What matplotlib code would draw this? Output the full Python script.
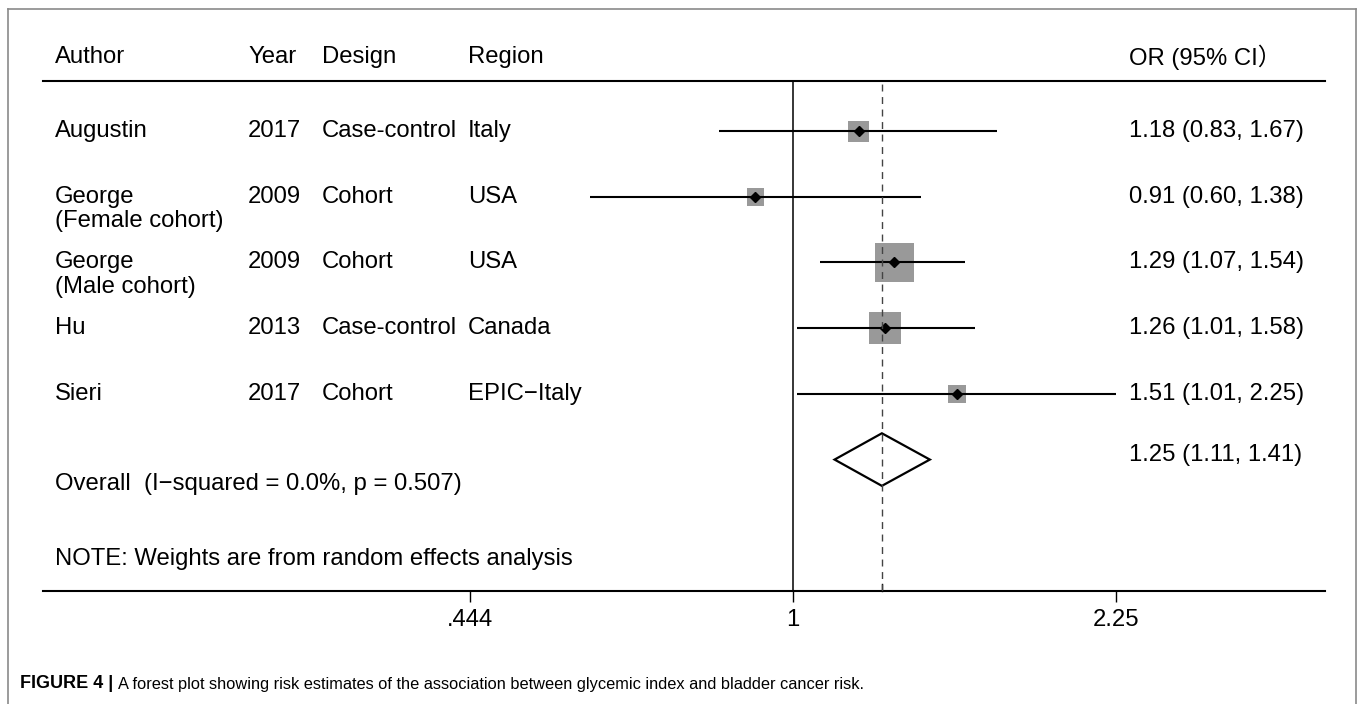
import matplotlib
matplotlib.use("Agg")
import matplotlib.pyplot as plt
from matplotlib.lines import Line2D
from matplotlib.patches import Polygon
from matplotlib.ticker import NullLocator
import numpy as np

plt.rcParams['font.family'] = ['Liberation Sans', 'Noto Sans CJK SC', 'DejaVu Sans']

# study rows
authors = ["Augustin", "George\n(Female cohort)", "George\n(Male cohort)", "Hu", "Sieri"]
years = ["2017", "2009", "2009", "2013", "2017"]
designs = ["Case-control", "Cohort", "Cohort", "Case-control", "Cohort"]
regions = ["Italy", "USA", "USA", "Canada", "EPIC\u2212Italy"]
or_est = [1.18, 0.91, 1.29, 1.26, 1.51]
ci_low = [0.83, 0.60, 1.07, 1.01, 1.01]
ci_high = [1.67, 1.38, 1.54, 1.58, 2.25]
weights = [12.0, 8.5, 42.5, 28.5, 8.5]   # % weight, sets box area

# pooled estimate
overall_or, overall_lo, overall_hi = 1.25, 1.11, 1.41
overall_label = "Overall  (I\u2212squared = 0.0%, p = 0.507)"
note = "NOTE: Weights are from random effects analysis"

headers = ["Author", "Year", "Design", "Region"]
or_header = "OR (95% CI\uff09"
xticks = [0.444, 1, 2.25]
xtick_labels = [".444", "1", "2.25"]

caption_bold = "FIGURE 4 |"
caption = "A forest plot showing risk estimates of the association between glycemic index and bladder cancer risk."

W, H = 1360, 704
fig = plt.figure(figsize=(W / 100, H / 100), dpi=100)


def fx(px):
    return px / W


def fy(py):
    return 1 - py / H


# plot area: header rule on top, x axis at the bottom
left_px, right_px, top_px, bot_px = 43, 1325, 81, 591
ax = fig.add_axes([fx(left_px), fy(bot_px), (right_px - left_px) / W, (bot_px - top_px) / H])
ax.set_xscale('log')
ax.set_xlim(0.1521, 3.803)
ax.set_ylim(8.0, 0.239)
for side in ['left', 'right']:
    ax.spines[side].set_visible(False)
for side in ['top', 'bottom']:
    ax.spines[side].set_linewidth(1.5)
ax.set_yticks([])
ax.set_xticks(xticks)
ax.set_xticklabels(xtick_labels)
ax.xaxis.set_minor_locator(NullLocator())

fs = 17.2
ax.tick_params(axis='x', direction='out', length=8, width=1.0, pad=5, labelsize=fs)

rows = np.arange(1, len(authors) + 1)
ov_row = len(authors) + 1

# reference lines
ax.axvline(1, color='black', lw=1.1, zorder=1)
ax.axvline(overall_or, color='#444444', lw=1.0, ls=(0, (5, 4)), zorder=5)
ax.plot([overall_or, overall_or], [0, 7 / (bot_px - top_px)], transform=ax.get_xaxis_transform(),
        color='black', lw=1.0, clip_on=False)

# weighted boxes, CIs and point estimates
side_px = 6.06 * np.sqrt(weights)
ax.scatter(or_est, rows, s=(side_px * 72 / 100) ** 2, marker='s', color='#999999',
           linewidths=0, zorder=2)
ax.hlines(rows, ci_low, ci_high, color='black', lw=1.5, zorder=3)
ax.plot(or_est, rows, ls='none', marker='D', markersize=4.8, color='black', zorder=4)

# pooled diamond
dia = Polygon([(overall_lo, ov_row), (overall_or, ov_row - 0.40),
               (overall_hi, ov_row), (overall_or, ov_row + 0.40)],
              closed=True, fill=False, edgecolor='black', lw=1.6, zorder=3)
ax.add_patch(dia)

# text columns (x in axes fraction, y in row units)
tr = ax.get_yaxis_transform()


def col(px):
    return (px - left_px) / (right_px - left_px)


col_x = [col(55), col(248), col(322), col(468)]
val_x = col(1129)
head_y = 1 + (57 - 131) / 65.7

for x, h in zip(col_x, headers):
    ax.text(x, head_y, h, transform=tr, fontsize=fs, va='center', ha='left', clip_on=False)
ax.text(val_x, head_y, or_header, transform=tr, fontsize=fs, va='center', ha='left', clip_on=False)

for r, a, yr, d, rg, e, lo, hi in zip(rows, authors, years, designs, regions, or_est, ci_low, ci_high):
    for k, line in enumerate(a.split("\n")):
        ax.text(col_x[0], r + k * 0.37, line, transform=tr, fontsize=fs, va='center')
    ax.text(col_x[1], r, yr, transform=tr, fontsize=fs, va='center')
    ax.text(col_x[2], r, d, transform=tr, fontsize=fs, va='center')
    ax.text(col_x[3], r, rg, transform=tr, fontsize=fs, va='center')
    ax.text(val_x, r, f"{e:.2f} ({lo:.2f}, {hi:.2f})", transform=tr, fontsize=fs, va='center')

ax.text(val_x, ov_row - 0.07, f"{overall_or:.2f} ({overall_lo:.2f}, {overall_hi:.2f})",
        transform=tr, fontsize=fs, va='center')
ax.text(col_x[0], ov_row + 0.37, overall_label, transform=tr, fontsize=fs, va='center')
ax.text(col_x[0], ov_row + 1.51, note, transform=tr, fontsize=fs, va='center')

# gray frame around the figure panel
frame = dict(color='#8a8a8a', lw=1.2)
fig.add_artist(Line2D([fx(8), fx(8)], [fy(9), 0], **frame))
fig.add_artist(Line2D([fx(8), fx(1356)], [fy(9), fy(9)], **frame))
fig.add_artist(Line2D([fx(1356), fx(1356)], [fy(9), 0], **frame))

# caption
t1 = fig.text(fx(20), fy(684), caption_bold, fontsize=13, fontweight='bold', va='center')
fig.canvas.draw()
bb = t1.get_window_extent()
fig.text((bb.x1 + 5) / W, fy(684), caption, fontsize=11.8, va='center')

fig.savefig("out.png", dpi=100)
